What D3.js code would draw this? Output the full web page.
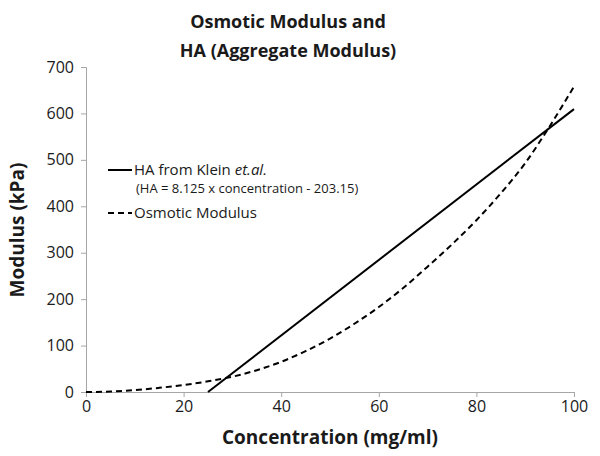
<!DOCTYPE html>
<html>
<head>
<meta charset="utf-8">
<script src="https://cdn.jsdelivr.net/npm/d3@7"></script>
<style>
  body { margin: 0; background: #fff; }
  text { font-family: "Open Sans", "Noto Sans", sans-serif; }
</style>
</head>
<body>
<div id="chart"></div>
<script>
// Data
var osmoticConc = [0, 5, 10, 15, 20, 25, 30, 35, 40, 45, 50, 55, 60, 65, 70, 75, 80, 85, 90, 95, 100];
var osmoticModulus = [0, 1, 4, 9, 15, 23, 33, 47, 65, 88, 115, 147, 183, 224, 270, 318, 370, 428, 493, 572, 658];
var haConc = [25, 100];
var haModulus = [0, 609.35];
var xTicks = [0, 20, 40, 60, 80, 100];
var yTicks = [0, 100, 200, 300, 400, 500, 600, 700];

var width = 600, height = 456;
var margin = {top: 67, right: 26, bottom: 64, left: 86};

var svg = d3.select("#chart")
  .append("svg")
  .attr("width", width)
  .attr("height", height);

var x = d3.scaleLinear().domain([0, 100]).range([margin.left, width - margin.right]);
var y = d3.scaleLinear().domain([0, 700]).range([height - margin.bottom, margin.top]);

// Axes
var xAxis = svg.append("g")
  .attr("transform", "translate(0," + y(0) + ")")
  .call(d3.axisBottom(x).tickValues(xTicks).tickSize(5).tickPadding(4));
var yAxis = svg.append("g")
  .attr("transform", "translate(" + x(0) + ",0)")
  .call(d3.axisLeft(y).tickValues(yTicks).tickSize(5).tickPadding(7));

[xAxis, yAxis].forEach(function(a) {
  a.select(".domain").attr("stroke", "#a6a6a6");
  a.selectAll(".tick line").attr("stroke", "#a6a6a6");
  a.selectAll(".tick text")
    .attr("fill", "#1a1a1a")
    .style("font-size", "16px");
});

// Lines
var line = d3.line()
  .x(function(d) { return x(d[0]); })
  .y(function(d) { return y(d[1]); });

svg.append("path")
  .datum(d3.zip(osmoticConc, osmoticModulus))
  .attr("d", line.curve(d3.curveMonotoneX))
  .attr("fill", "none")
  .attr("stroke", "#000")
  .attr("stroke-width", 2)
  .attr("stroke-dasharray", "6,4");

svg.append("path")
  .datum(d3.zip(haConc, haModulus))
  .attr("d", d3.line().x(function(d) { return x(d[0]); }).y(function(d) { return y(d[1]); }))
  .attr("fill", "none")
  .attr("stroke", "#000")
  .attr("stroke-width", 2);

// Title
var title = svg.append("text")
  .attr("text-anchor", "middle")
  .attr("font-weight", "bold")
  .style("font-size", "18px")
  .attr("fill", "#1a1a1a");
title.append("tspan").attr("x", 288).attr("y", 28).text("Osmotic Modulus and");
title.append("tspan").attr("x", 288).attr("y", 57).text("HA (Aggregate Modulus)");

// Axis titles
svg.append("text")
  .attr("x", 330)
  .attr("y", 444)
  .attr("text-anchor", "middle")
  .attr("font-weight", "bold")
  .style("font-size", "19px")
  .attr("fill", "#1a1a1a")
  .text("Concentration (mg/ml)");

svg.append("text")
  .attr("transform", "translate(24,230) rotate(-90)")
  .attr("text-anchor", "middle")
  .attr("font-weight", "bold")
  .style("font-size", "19px")
  .attr("fill", "#1a1a1a")
  .text("Modulus (kPa)");

// Legend
var legend = svg.append("g");
legend.append("line")
  .attr("x1", 108).attr("x2", 132).attr("y1", 170).attr("y2", 170)
  .attr("stroke", "#000").attr("stroke-width", 2);
var l1 = legend.append("text")
  .attr("x", 134).attr("y", 175)
  .style("font-size", "15px")
  .attr("fill", "#1a1a1a");
l1.append("tspan").text("HA from Klein ");
l1.append("tspan").attr("font-style", "italic").text("et.al.");
legend.append("text")
  .attr("x", 136).attr("y", 193)
  .style("font-size", "13px")
  .attr("fill", "#1a1a1a")
  .text("(HA = 8.125 x concentration - 203.15)");

legend.append("line")
  .attr("x1", 108).attr("x2", 132).attr("y1", 213).attr("y2", 213)
  .attr("stroke", "#000").attr("stroke-width", 2)
  .attr("stroke-dasharray", "6,4");
legend.append("text")
  .attr("x", 134).attr("y", 218)
  .style("font-size", "15px")
  .attr("fill", "#1a1a1a")
  .text("Osmotic Modulus");
</script>
</body>
</html>
